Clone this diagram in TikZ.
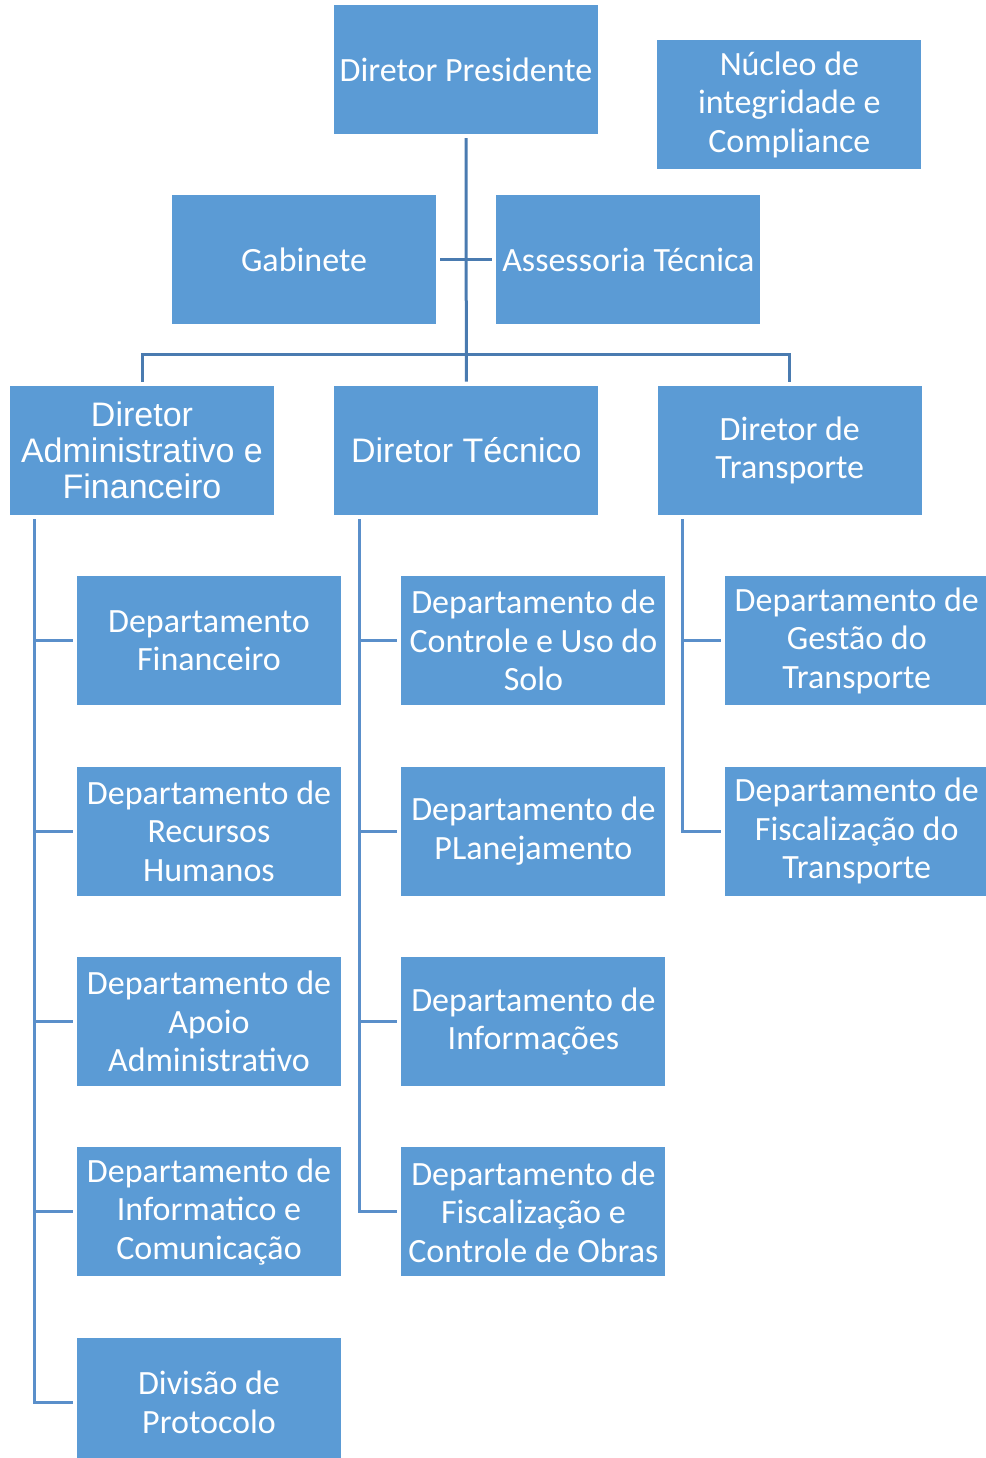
\documentclass[tikz,border=0pt]{standalone}
\usepackage{fontspec}
\setmainfont{Carlito}
\newfontfamily\arialfont{Liberation Sans}
\usepackage{xcolor}
\usetikzlibrary{positioning}

\definecolor{boxblue}{HTML}{5B9BD5}
\definecolor{topline}{HTML}{4A7BB0}
\definecolor{colline}{HTML}{5A8FCA}

\begin{document}
\begin{tikzpicture}[x=1pt, y=-1pt, node distance=61pt]
        \tikzstyle{unit} = [rectangle, fill=boxblue, text=white, align=center, minimum width=264pt, minimum height=129pt, inner sep=0pt, font=\fontsize{34pt}{38.5pt}\selectfont]
        \tikzstyle{unitA} = [unit, font=\arialfont\fontsize{34pt}{36pt}\selectfont]
        \tikzstyle{tree} = [draw=topline, line width=3pt, shorten <=4pt, shorten >=4pt]
        \tikzstyle{branch} = [draw=colline, line width=3pt, shorten <=4pt, shorten >=4pt]

        \useasboundingbox (0,0) rectangle (985,1458);

        % top level
        \node [unit] (pres) at (466,69.5) {Diretor Presidente};
        \node [unit, right=59pt of pres, yshift=-35pt] (nucleo) {Núcleo de\\integridade e\\Compliance};
        \node [unit, below=of pres, xshift=-162pt] (gab) {Gabinete};
        \node [unit, right=60pt of gab] (assess) {Assessoria Técnica};

        % directors
        \node [unitA, below=of gab, xshift=-162pt] (admin) {Diretor\\Administrativo e\\Financeiro};
        \node [unitA, right=60pt of admin] (tecnico) {Diretor Técnico};
        \node [unit, right=59pt of tecnico] (transp) {Diretor de\\Transporte};

        % departments under admin
        \node [unit, below=of admin, xshift=67pt] (financ) {Departamento\\Financeiro};
        \node [unit, below=of financ] (rh) {Departamento de\\Recursos\\Humanos};
        \node [unit, below=of rh] (apoio) {Departamento de\\Apoio\\Administrativo};
        \node [unit, below=of apoio] (informat) {Departamento de\\Informatico e\\Comunicação};
        \node [unit, below=of informat] (protocolo) {Divisão de\\Protocolo};

        % departments under tecnico
        \node [unit, right=60pt of financ] (solo) {Departamento de\\Controle e Uso do\\Solo};
        \node [unit, below=of solo] (planej) {Departamento de\\PLanejamento};
        \node [unit, below=of planej] (inform) {Departamento de\\Informações};
        \node [unit, below=of inform] (obras) {Departamento de\\Fiscalização e\\Controle de Obras};

        % departments under transporte
        \node [unit, right=59pt of solo] (gestao) {Departamento de\\Gestão do\\Transporte};
        \node [unit, below=of gestao] (fiscal) {Departamento de\\Fiscalização do\\Transporte};

        % upper tree
        \coordinate (bus) at (466,354);
        \path [tree] (pres) -- (tecnico);
        \path [tree] (admin.north) |- (bus) -| (transp.north);
        \path [tree] (gab) -- (assess);

        % department branches
        \coordinate (colA) at ([xshift=25pt]admin.south west);
        \coordinate (colB) at ([xshift=25pt]tecnico.south west);
        \coordinate (colC) at ([xshift=25pt]transp.south west);
        \path [branch] (colA) |- (protocolo.west);
        \path [branch] (colB) |- (obras.west);
        \path [branch] (colC) |- (fiscal.west);
        \foreach \d in {financ,rh,apoio,informat}
            \path [branch, shorten <=0pt] (colA |- \d.west) -- (\d.west);
        \foreach \d in {solo,planej,inform}
            \path [branch, shorten <=0pt] (colB |- \d.west) -- (\d.west);
        \path [branch, shorten <=0pt] (colC |- gestao.west) -- (gestao.west);
    \end{tikzpicture}
\end{document}
